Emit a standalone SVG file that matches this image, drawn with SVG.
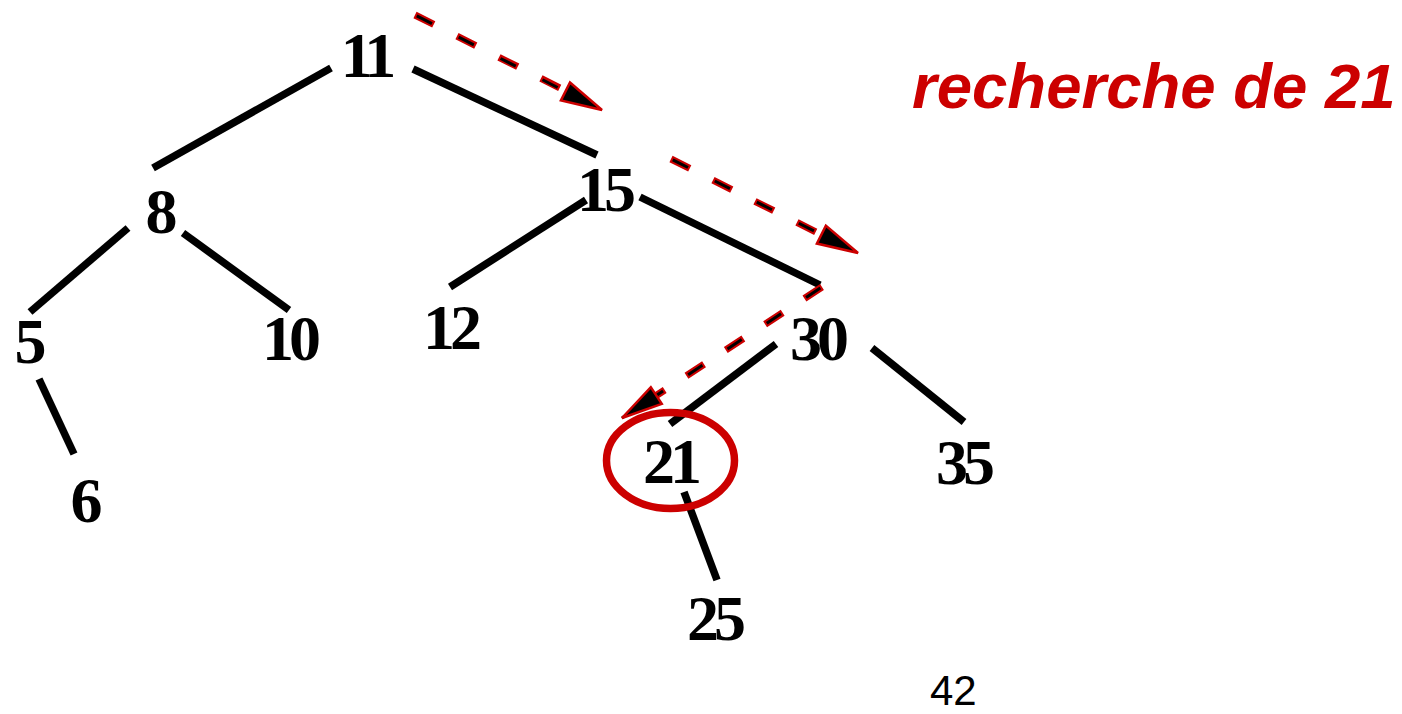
<svg xmlns="http://www.w3.org/2000/svg" width="1402" height="714" viewBox="0 0 1402 714">
<style>
.n{font-family:"Liberation Serif","Times New Roman",serif;font-weight:bold;font-size:64px;letter-spacing:-5px;text-anchor:middle;fill:#000}
.e{stroke:#000;stroke-width:7.5;fill:none}
.dr{stroke:#CC0000;stroke-width:7;fill:none;stroke-dasharray:21 26}
.db{stroke:#000;stroke-width:3;fill:none;stroke-dasharray:17 30;stroke-dashoffset:-2}
</style>
<defs>
<marker id="ah" markerUnits="userSpaceOnUse" markerWidth="46" markerHeight="26" viewBox="0 0 46 26" refX="43" refY="13" orient="auto">
<path d="M2,3 L43,13 L2,23 z" fill="#000" stroke="#CC0000" stroke-width="2.5" stroke-linejoin="miter"/>
</marker>
</defs>
<rect width="1402" height="714" fill="#fff"/>
<g id="edges">
<line class="e" x1="331" y1="68" x2="153" y2="168"/>
<line class="e" x1="413" y1="69" x2="597" y2="155"/>
<line class="e" x1="128" y1="228" x2="30" y2="312"/>
<line class="e" x1="183" y1="233" x2="289" y2="310"/>
<line class="e" x1="586" y1="200" x2="450" y2="287"/>
<line class="e" x1="640" y1="197" x2="820" y2="285"/>
<line class="e" x1="39" y1="379" x2="74" y2="454"/>
<line class="e" x1="776" y1="344" x2="670" y2="424"/>
<line class="e" x1="872" y1="348" x2="964" y2="422"/>
<line class="e" x1="684" y1="492" x2="717" y2="580"/>
</g>
<g id="search-path">
<path class="dr" d="M415,15 L570,93"/>
<path class="db" d="M415,15 L602,110" marker-end="url(#ah)"/>
<path class="dr" d="M671,159 L826,237"/>
<path class="db" d="M671,159 L858,253" marker-end="url(#ah)"/>
<path class="dr" d="M822,287 L654,397"/>
<path class="db" d="M822,287 L622,418" marker-end="url(#ah)"/>
</g>
<g id="n11"><text class="n" x="366" y="77">11</text></g>
<g id="n8"><text class="n" x="159" y="233">8</text></g>
<g id="n15"><text class="n" x="604" y="211">15</text></g>
<g id="n5"><text class="n" x="28" y="363">5</text></g>
<g id="n10"><text class="n" x="289" y="360">10</text></g>
<g id="n6"><text class="n" x="84" y="522">6</text></g>
<g id="n12"><text class="n" x="450" y="349">12</text></g>
<g id="n30"><text class="n" x="817" y="360">30</text></g>
<g id="n21">
<ellipse cx="670.5" cy="460.5" rx="64" ry="48" fill="none" stroke="#CC0000" stroke-width="7.5"/>
<text class="n" x="670" y="483">21</text>
</g>
<g id="n35"><text class="n" x="963" y="484">35</text></g>
<g id="n25"><text class="n" x="714" y="640">25</text></g>
<g id="title"><text x="912" y="108" font-family="Liberation Sans, Arial, sans-serif" font-weight="bold" font-style="italic" font-size="63.5" fill="#CC0000">recherche de 21</text></g>
<g id="page"><text x="930" y="705" font-family="Liberation Sans, Arial, sans-serif" font-size="42" fill="#000">42</text></g>
</svg>
